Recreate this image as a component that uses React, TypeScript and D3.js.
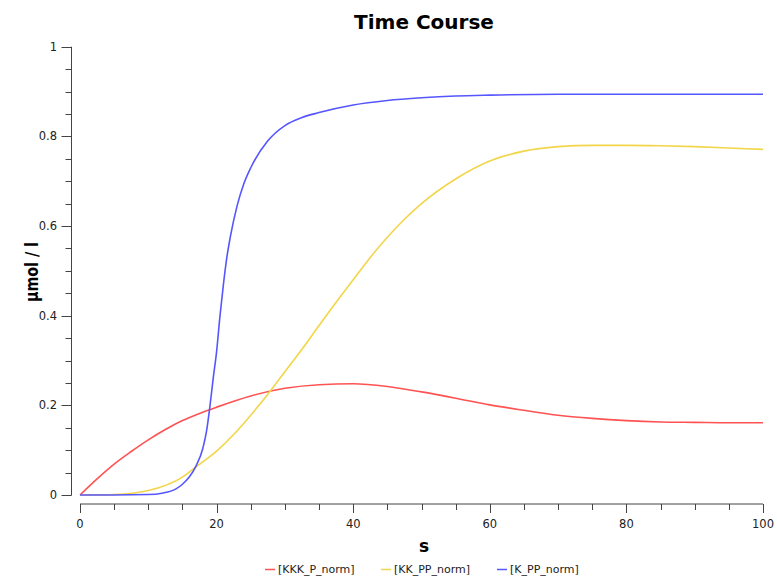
import React from "react";
import * as d3 from "d3";

const seriesNames = ["[KKK_P_norm]", "[KK_PP_norm]", "[K_PP_norm]"];
const seriesColors = ["#ff5252", "#f2d548", "#5656ff"];

const kkkT = [0, 2.5, 5, 7.5, 10, 12.5, 15, 17.5, 20, 25, 30, 35, 40, 45, 50, 55, 60, 65, 70, 75, 80, 85, 90, 95, 100];
const kkkV = [0, 0.036, 0.069, 0.097, 0.123, 0.146, 0.166, 0.182, 0.196, 0.221, 0.238, 0.246, 0.248, 0.242, 0.23, 0.216, 0.201, 0.189, 0.178, 0.171, 0.166, 0.163, 0.162, 0.161, 0.161];

const kkT = [0, 5, 10, 15, 17, 20, 22.5, 25, 27.5, 30, 32.5, 35, 37.5, 40, 42.5, 45, 47.5, 50, 55, 60, 65, 70, 75, 80, 85, 90, 95, 100];
const kkV = [0, 0.001, 0.01, 0.04, 0.063, 0.098, 0.135, 0.178, 0.225, 0.275, 0.325, 0.378, 0.43, 0.48, 0.53, 0.575, 0.615, 0.65, 0.705, 0.745, 0.767, 0.777, 0.78, 0.78, 0.779, 0.777, 0.774, 0.771];

const kT = [0, 5, 10, 12, 14, 15, 16, 17, 18, 18.5, 19, 19.5, 20, 20.5, 21, 21.5, 22, 23, 24, 25, 27.5, 30, 32.5, 35, 40, 45, 50, 55, 60, 70, 80, 90, 100];
const kV = [0, 0, 0.001, 0.004, 0.013, 0.024, 0.04, 0.065, 0.105, 0.14, 0.195, 0.26, 0.32, 0.4, 0.47, 0.53, 0.575, 0.645, 0.695, 0.73, 0.79, 0.824, 0.842, 0.853, 0.87, 0.88, 0.886, 0.89, 0.892, 0.894, 0.894, 0.894, 0.894];

const xTicks = [0, 20, 40, 60, 80, 100];
const yTicks = [0, 0.2, 0.4, 0.6, 0.8, 1];

export default function App() {
  const W = 777, H = 576;
  const x = d3.scaleLinear().domain([0, 100]).range([80, 763]);
  const y = d3.scaleLinear().domain([0, 1]).range([495, 46.7]);
  const line = d3
    .line<[number, number]>()
    .x((d) => x(d[0]))
    .y((d) => y(d[1]))
    .curve(d3.curveMonotoneX);
  const series = [
    kkkT.map((t, i) => [t, kkkV[i]] as [number, number]),
    kkT.map((t, i) => [t, kkV[i]] as [number, number]),
    kT.map((t, i) => [t, kV[i]] as [number, number]),
  ];
  const xMinor = d3.range(0, 100.001, 5);
  const yMinor = d3.range(0, 1.0001, 0.05);
  const axisColor = "#444";
  const font = "DejaVu Sans, Verdana, sans-serif";
  const xAxisY = 504;
  const yAxisX = 71.5;
  const legendX = [265, 381, 497];
  return (
    <svg width={W} height={H} style={{ position: "absolute", left: 0, top: 0 }} fontFamily={font}>
      <rect width={W} height={H} fill="#fff" />
      <text x={424} y={29} textAnchor="middle" fontSize={20} fontWeight="bold" fill="#000">
        Time Course
      </text>
      {/* y axis */}
      <line x1={yAxisX} x2={yAxisX} y1={y(1)} y2={y(0)} stroke={axisColor} strokeWidth={1} />
      {yMinor.map((v, i) => (
        <line key={"ym" + i} x1={yAxisX - 6} x2={yAxisX} y1={Math.round(y(v)) + 0.5} y2={Math.round(y(v)) + 0.5} stroke={axisColor} />
      ))}
      {yTicks.map((v) => (
        <g key={"yt" + v}>
          <line x1={yAxisX - 10} x2={yAxisX} y1={Math.round(y(v)) + 0.5} y2={Math.round(y(v)) + 0.5} stroke={axisColor} />
          <text x={57} y={y(v) + 4} textAnchor="end" fontSize={11.5} fill="#222">
            {String(v)}
          </text>
        </g>
      ))}
      <text
        transform={`translate(38,${272}) rotate(-90)`}
        textAnchor="middle"
        fontSize={17}
        fontWeight="bold"
        fill="#000"
        textLength={60}
        lengthAdjust="spacingAndGlyphs"
      >
        μmol / l
      </text>
      {/* x axis */}
      <line x1={x(0)} x2={x(100)} y1={xAxisY} y2={xAxisY} stroke={axisColor} />
      {xMinor.map((v, i) => (
        <line key={"xm" + i} x1={Math.round(x(v)) + 0.5} x2={Math.round(x(v)) + 0.5} y1={xAxisY} y2={xAxisY + 6} stroke={axisColor} />
      ))}
      {xTicks.map((v) => (
        <g key={"xt" + v}>
          <line x1={Math.round(x(v)) + 0.5} x2={Math.round(x(v)) + 0.5} y1={xAxisY} y2={xAxisY + 9} stroke={axisColor} />
          <text x={x(v)} y={xAxisY + 24} textAnchor="middle" fontSize={11.5} fill="#222">
            {String(v)}
          </text>
        </g>
      ))}
      <text x={424} y={552} textAnchor="middle" fontSize={17} fontWeight="bold" fill="#000">
        s
      </text>
      {/* lines */}
      {series.map((s, i) => (
        <path key={"s" + i} d={line(s) || ""} fill="none" stroke={seriesColors[i]} strokeWidth={1.6} />
      ))}
      {/* legend */}
      {seriesNames.map((n, i) => (
        <g key={"lg" + i}>
          <line x1={legendX[i]} x2={legendX[i] + 10} y1={569.5} y2={569.5} stroke={seriesColors[i]} strokeWidth={1.5} />
          <text x={legendX[i] + 13} y={573} fontSize={11} fill="#222">
            {n}
          </text>
        </g>
      ))}
    </svg>
  );
}
